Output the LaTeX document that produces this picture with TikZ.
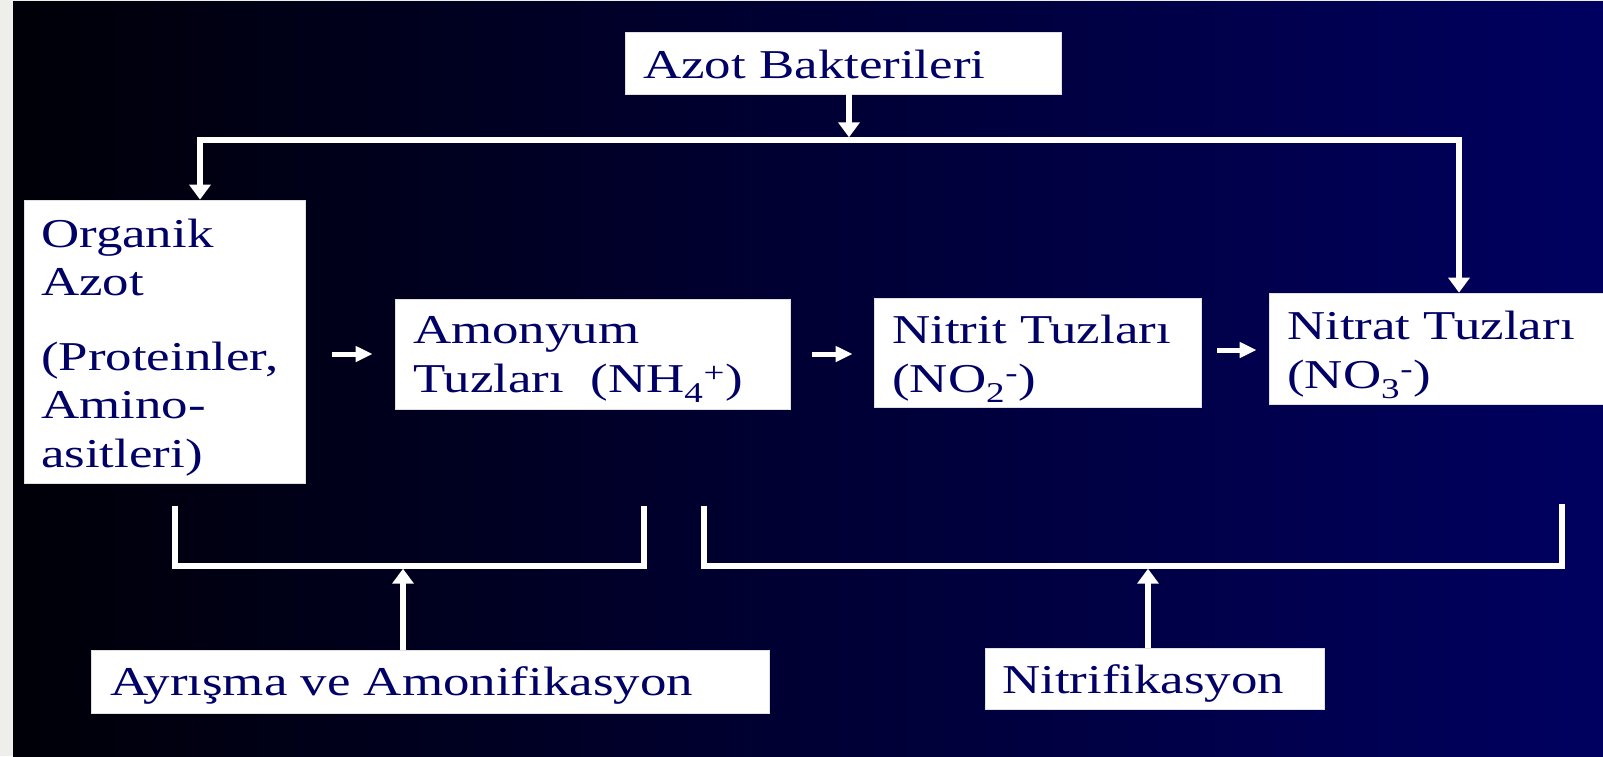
\documentclass[tikz,border=0pt]{standalone}
\usepackage{fontspec}
\setmainfont{Liberation Serif}
\usepackage{graphicx}
\usetikzlibrary{arrows.meta}
\definecolor{bgL}{RGB}{0,0,8}
\definecolor{bgM}{RGB}{0,0,84}
\definecolor{bgR}{RGB}{0,0,96}
\definecolor{navytext}{RGB}{0,0,102}
\definecolor{stripgray}{RGB}{238,238,234}
\newcommand{\stx}[1]{\scalebox{1.29}[1]{#1}}
\begin{document}
\begin{tikzpicture}[x=1pt,y=-1pt,
  box/.style={draw=black!12, line width=0.8pt, fill=white, inner sep=0pt},
  txt/.style={anchor=base west, inner sep=0pt, text=navytext, font=\fontsize{41}{49}\selectfont},
  wline/.style={draw=white, line width=5.5pt},
  bigtip/.style={-{Triangle[width=21pt,length=15pt]}},
  smallarrow/.style={draw=white, line width=5pt, -{Triangle[width=15pt,length=17pt]}}]
\useasboundingbox (0,0) rectangle (1603,756);
\clip (0,0) rectangle (1603,756);
% background
\fill[stripgray] (0,0) rectangle (1603,756);
\shade[left color=bgL, middle color=bgM, right color=bgR] (13,1.5) rectangle (1603,756);

% boxes
\node[box, minimum width=436pt, minimum height=62pt] (azot) at (843,63) {};
\node[box, minimum width=281pt, minimum height=283pt] (org) at (164.5,341.5) {};
\node[box, minimum width=395pt, minimum height=110pt] (amon) at (592.5,354) {};
\node[box, minimum width=327pt, minimum height=109pt] (nitrit) at (1037.5,352.5) {};
\node[box, minimum width=345pt, minimum height=111pt] (nitrat) at (1441.5,348.5) {};
\node[box, minimum width=678pt, minimum height=63pt] (ayr) at (430,681.5) {};
\node[box, minimum width=339pt, minimum height=61pt] (nitrif) at (1154.5,678.5) {};

% texts
\node[txt] (azott) at (643,78) {\stx{Azot Bakterileri}};
\node[txt] (org1) at (41,247) {\stx{Organik}};
\node[txt] (org2) at (41,295) {\stx{Azot}};
\node[txt] (org3) at (41,370) {\stx{(Proteinler,}};
\node[txt] (org4) at (41,418) {\stx{Amino-}};
\node[txt] (org5) at (41,467) {\stx{asitleri)}};
\node[txt] (amon1) at (413,343) {\stx{Amonyum}};
\node[txt] (amon2) at (413,392) {\stx{Tuzları\ \ (NH\textsubscript{4}\textsuperscript{+})}};
\node[txt] (nitrit1) at (892,343) {\stx{Nitrit Tuzları}};
\node[txt] (nitrit2) at (892,392) {\stx{(NO\textsubscript{2}\textsuperscript{-})}};
\node[txt] (nitrat1) at (1287,339) {\stx{Nitrat Tuzları}};
\node[txt] (nitrat2) at (1287,388) {\stx{(NO\textsubscript{3}\textsuperscript{-})}};
\node[txt] (ayrt) at (110,695) {\stx{Ayrışma ve Amonifikasyon}};
\node[txt] (nitrift) at (1002,693) {\stx{Nitrifikasyon}};

% top distribution line
\coordinate (tl) at (200,140);
\coordinate (tr) at (1459,140);
\coordinate (tm) at (849,137.3);
\draw[wline, {Triangle[width=21pt,length=15pt]}-{Triangle[width=21pt,length=15pt]}]
  (tl |- org.north) -- (tl) -- (tr) -- (tr |- nitrat.north);
\draw[wline, bigtip] (azot.south -| tm) -- (tm);

% chain arrows
\draw[smallarrow, shorten <=27pt, shorten >=22pt] (org.east |- amon.west) -- (amon.west);
\draw[smallarrow, shorten <=22pt, shorten >=21pt] (amon.east) -- (amon.east -| nitrit.west);
\draw[smallarrow, shorten <=16pt, shorten >=12pt] ([yshift=-1.5pt]nitrit.east |- nitrat.west) -- ([yshift=-1.5pt]nitrat.west);

% bottom brackets
\coordinate (b1a) at (175,506);
\coordinate (b1b) at (644,506);
\coordinate (b1m) at (403,566);
\coordinate (b1t) at (403,568.7);
\draw[wline] (b1a) |- (b1m) -| (b1b);
\draw[wline, bigtip] (ayr.north -| b1t) -- (b1t);

\coordinate (b2a) at (704,506);
\coordinate (b2b) at (1562,504);
\coordinate (b2m) at (1148,566);
\coordinate (b2t) at (1148,568.7);
\draw[wline] (b2a) |- (b2m) -| (b2b);
\draw[wline, bigtip] (nitrif.north -| b2t) -- (b2t);
\end{tikzpicture}
\end{document}
